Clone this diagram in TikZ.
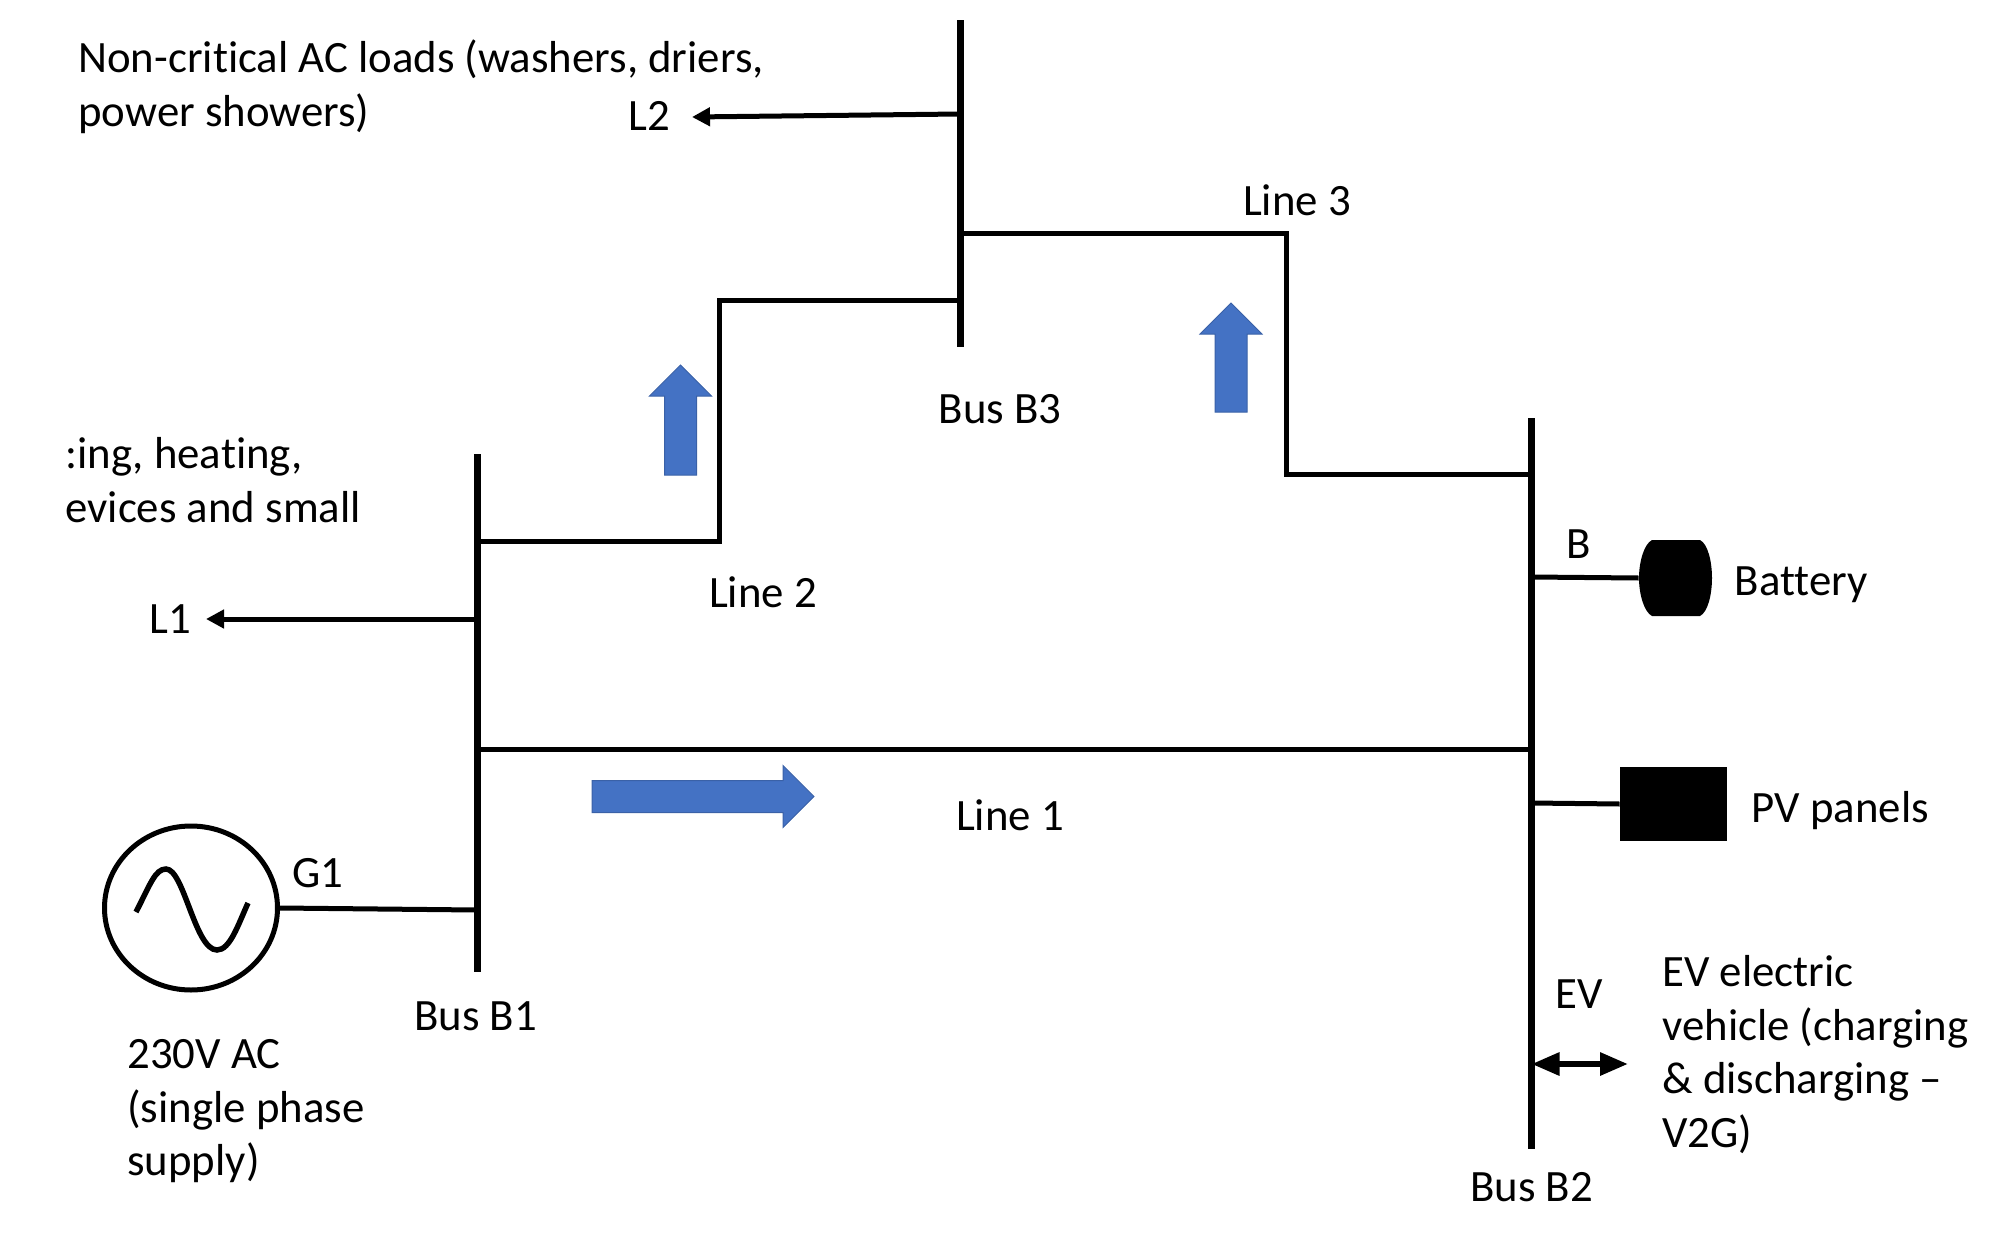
\documentclass[tikz,border=0pt]{standalone}
\usepackage{fontspec}
\setmainfont{Carlito}[Ligatures=NoCommon]
\usetikzlibrary{arrows.meta,calc,positioning,shapes.arrows,shapes.geometric}
\definecolor{flowblue}{HTML}{4472C4}

\begin{document}
\begin{tikzpicture}[x=0.5pt,y=-0.5pt,>={Triangle[length=9pt,width=9pt]},node distance=1cm]
  \tikzstyle{busbar}=[line width=3.5pt]
  \tikzstyle{feeder}=[line width=2.5pt,line join=miter]
  \tikzstyle{tag}=[inner sep=0pt,font=\fontsize{22.4}{26.8}\selectfont,align=left]
  \tikzstyle{flow}=[single arrow,fill=flowblue,draw=flowblue!85!black,line width=0.5pt,inner xsep=0pt,inner ysep=7.75pt,minimum width=30.5pt,single arrow head extend=7.5pt,single arrow head indent=0pt]
  \useasboundingbox (0,0) rectangle (1999,1237);

  % buses
  \coordinate (b1top) at (477,454);
  \coordinate (b1bot) at (477,972);
  \coordinate (b3top) at (960,20);
  \coordinate (b3bot) at (960,347);
  \coordinate (b2top) at (1531.5,418);
  \coordinate (b2bot) at (1531.5,1149);
  \draw[busbar] (b1top) -- (b1bot);
  \draw[busbar] (b3top) -- (b3bot);
  \draw[busbar] (b2top) -- (b2bot);
  \node[tag,below=14.5pt of b1bot,xshift=-0.7pt] (busone) {Bus B1};
  \node[tag] (busthree) at (1000,409) {Bus B3};
  \node[tag,below=11.5pt of b2bot] (bustwo) {Bus B2};

  % lines between the buses
  \coordinate (l1a) at (477,749);
  \coordinate (l1b) at (1531.5,749);
  \draw[feeder] (l1a) -- (l1b);
  \node[tag] (lineone) at (1010,815) {Line 1};

  \coordinate (l2a) at (477,541);
  \coordinate (l2b) at (719,300);
  \coordinate (l2c) at (960,300);
  \draw[feeder] (l2a) -| (l2b) -- (l2c);
  \node[tag] (linetwo) at (763,592) {Line 2};

  \coordinate (l3a) at (960,233);
  \coordinate (l3b) at (1286,474);
  \coordinate (l3c) at (1531.5,474);
  \draw[feeder] (l3a) -| (l3b) -- (l3c);
  \node[tag] (linethree) at (1297,200) {Line 3};

  % power flow
  \node[flow,minimum height=111pt] (flowone) at (695,796.5) {};
  \node[flow,minimum height=55pt,rotate=90] (flowtwo) at (680.5,428) {};
  \node[flow,minimum height=54.5pt,rotate=90] (flowthree) at (1231,365.5) {};

  % loads
  \coordinate (l1tap) at (477,619);
  \coordinate (l1end) at (206,619);
  \node[tag] (loadone) at (170,619) {L1};
  \draw[feeder,->] (l1tap) -- (l1end);
  \node[tag,anchor=west] (loadoneinfo) at (65,480) {:ing, heating,\\evices and small};

  \coordinate (l2tap) at (960,114);
  \coordinate (l2end) at (692,117);
  \node[tag] (loadtwo) at (649,116) {L2};
  \draw[feeder,->] (l2tap) -- (l2end);
  \node[tag,anchor=west] (loadtwoinfo) at (78,87) {Non-critical AC loads (washers, driers,\\power showers)};

  % generator
  \node[draw,ellipse,line width=2.5pt,minimum width=86.5pt,minimum height=82pt,inner sep=0pt] (gen) at (191,908) {};
  \draw[line width=2.75pt] (136,912) .. controls (150,885) and (155,869) .. (166,869)
    .. controls (184,869) and (195,950) .. (217,950)
    .. controls (230,950) and (238,925) .. (248,903);
  \coordinate (gtap) at (477,910);
  \draw[feeder] (gen.east) -- (gtap);
  \node[tag] (genlabel) at (318,873) {G1};
  \node[tag,anchor=north west] (geninfo) at (127,1039) {230V AC\\(single phase\\supply)};

  % battery, PV panels and EV
  \node[minimum width=36.5pt,minimum height=38pt,inner sep=0pt] (batt) at (1675.5,578) {};
  \fill (1652,540) -- (1700,540) .. controls (1708,544) and (1712,562) .. (1712,578)
    .. controls (1712,594) and (1708,612) .. (1700,616) -- (1652,616)
    .. controls (1644,612) and (1639,594) .. (1639,578)
    .. controls (1639,562) and (1644,544) .. (1652,540) -- cycle;
  \coordinate (btap) at (1531.5,577);
  \draw[feeder] (btap) -- (batt.west);
  \node[tag] (battlabel) at (1579,544) {B};
  \node[tag,right=11pt of batt,yshift=-3.5pt] (battinfo) {Battery};

  \node[fill=black,minimum width=53.5pt,minimum height=37pt,inner sep=0pt] (pv) at (1673.5,804) {};
  \coordinate (pvtap) at (1531.5,803);
  \draw[feeder] (pvtap) -- (pv.west);
  \node[tag,right=12pt of pv,yshift=-3.5pt] (pvinfo) {PV panels};

  \coordinate (evtap) at (1531.5,1064);
  \coordinate (evend) at (1628,1064);
  \draw[feeder,line width=3pt,{Triangle[length=14pt,width=11pt]}-{Triangle[length=14pt,width=11pt]}] (evtap) -- (evend);
  \node[tag] (evlabel) at (1579,994) {EV};
  \node[tag,anchor=north west] (evinfo) at (1662,955) {EV electric\\vehicle (charging\\\& discharging --\\V2G)};
\end{tikzpicture}
\end{document}
